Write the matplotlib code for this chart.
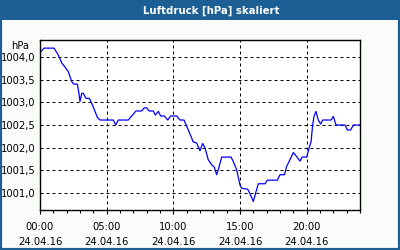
import numpy as np
import matplotlib.pyplot as plt
from matplotlib.patches import Rectangle
from matplotlib.ticker import FixedLocator, MultipleLocator

# Stunden seit 00:00 am 24.04.16
stunden = [0.0, 0.3, 1.05, 1.37, 1.63, 1.88, 2.12, 2.38, 2.5, 2.8, 2.9, 3.0,
           3.13, 3.25, 3.45, 3.7, 3.88, 4.13, 4.3, 4.5, 5.5, 5.68, 5.87, 6.62,
           6.88, 7.2, 7.63, 7.82, 8.0, 8.18, 8.5, 8.65, 8.87, 9.05, 9.32, 9.58,
           9.8, 10.25, 10.5, 10.8, 11.12, 11.38, 11.48, 11.75, 12.0, 12.2, 12.38,
           12.62, 12.88, 13.07, 13.25, 13.37, 13.63, 14.33, 14.5, 14.75, 15.0,
           15.13, 15.58, 15.75, 16.0, 16.37, 16.88, 17.06, 17.8, 18.0, 18.34,
           18.49, 18.68, 19.0, 19.25, 19.5, 19.65, 20.0, 20.18, 20.33, 20.45,
           20.55, 20.7, 20.87, 21.05, 21.2, 21.83, 22.0, 22.2, 22.88, 23.05,
           23.3, 23.5, 24.0]
druck = [1004.10, 1004.20, 1004.20, 1004.05, 1003.87, 1003.78, 1003.68,
         1003.46, 1003.41, 1003.40, 1003.24, 1003.02, 1003.20, 1003.20,
         1003.09, 1003.09, 1002.98, 1002.80, 1002.67, 1002.61, 1002.61,
         1002.50, 1002.61, 1002.61, 1002.70, 1002.81, 1002.81, 1002.88,
         1002.88, 1002.81, 1002.81, 1002.72, 1002.80, 1002.70, 1002.70,
         1002.61, 1002.70, 1002.70, 1002.61, 1002.61, 1002.39, 1002.21,
         1002.13, 1002.10, 1001.93, 1002.09, 1001.99, 1001.73, 1001.62,
         1001.57, 1001.40, 1001.51, 1001.79, 1001.79, 1001.69, 1001.51,
         1001.17, 1001.10, 1001.08, 1000.98, 1000.81, 1001.20, 1001.20,
         1001.28, 1001.28, 1001.40, 1001.40, 1001.58, 1001.69, 1001.89,
         1001.80, 1001.70, 1001.79, 1001.79, 1001.99, 1002.13, 1002.50,
         1002.69, 1002.80, 1002.61, 1002.52, 1002.61, 1002.61, 1002.69,
         1002.50, 1002.50, 1002.39, 1002.39, 1002.50, 1002.50]

x_ticks = [0, 5, 10, 15, 20]
x_labels = ['00:00\n24.04.16', '05:00\n24.04.16', '10:00\n24.04.16',
            '15:00\n24.04.16', '20:00\n24.04.16']
y_ticks = [1001.0, 1001.5, 1002.0, 1002.5, 1003.0, 1003.5, 1004.0]
y_labels = ['1001,0', '1001,5', '1002,0', '1002,5', '1003,0', '1003,5', '1004,0']

blau = '#1c5f95'
bg = '#f9fcf9'
fs = 7.2

fig = plt.figure(figsize=(4, 2.5), dpi=100, facecolor=bg)

# Titelleiste und Rahmen
fig.add_artist(Rectangle((0, 1 - 20 / 250), 1, 20 / 250, transform=fig.transFigure,
                         facecolor=blau, edgecolor='none'))
fig.add_artist(Rectangle((0, 0), 1, 1, transform=fig.transFigure,
                         facecolor='none', edgecolor=blau, lw=3))
fig.text(211 / 400, 1 - 10.5 / 250, 'Luftdruck [hPa] skaliert', color='white',
         fontsize=7.3, fontweight='bold', ha='center', va='center')

ax = fig.add_axes([40 / 400, 40 / 250, 320 / 400, 170 / 250])
ax.set_facecolor('white')
ax.plot(stunden, druck, color='#0000ff', lw=0.9)

ax.set_xlim(0, 24)
ax.set_ylim(1000.62, 1004.38)

ax.xaxis.set_major_locator(FixedLocator(x_ticks))
ax.set_xticklabels(x_labels, fontsize=fs, linespacing=1.55)
ax.xaxis.set_minor_locator(MultipleLocator(1))
ax.tick_params(axis='x', which='major', length=3, width=0.8, pad=6)
ax.tick_params(axis='x', which='minor', length=2, width=0.8)

ax.set_yticks(y_ticks)
ax.set_yticklabels(y_labels, fontsize=fs)
ax.tick_params(axis='y', length=0, pad=3.5)

for s in ax.spines.values():
    s.set_linewidth(1)

ax.grid(True, which='major', color='black', linestyle=(0, (3, 3)), lw=0.72)
fig.text(20 / 400, 1 - 46 / 250, 'hPa', fontsize=fs, ha='center', va='center')

plt.savefig('out.png', dpi=100, facecolor=bg)
